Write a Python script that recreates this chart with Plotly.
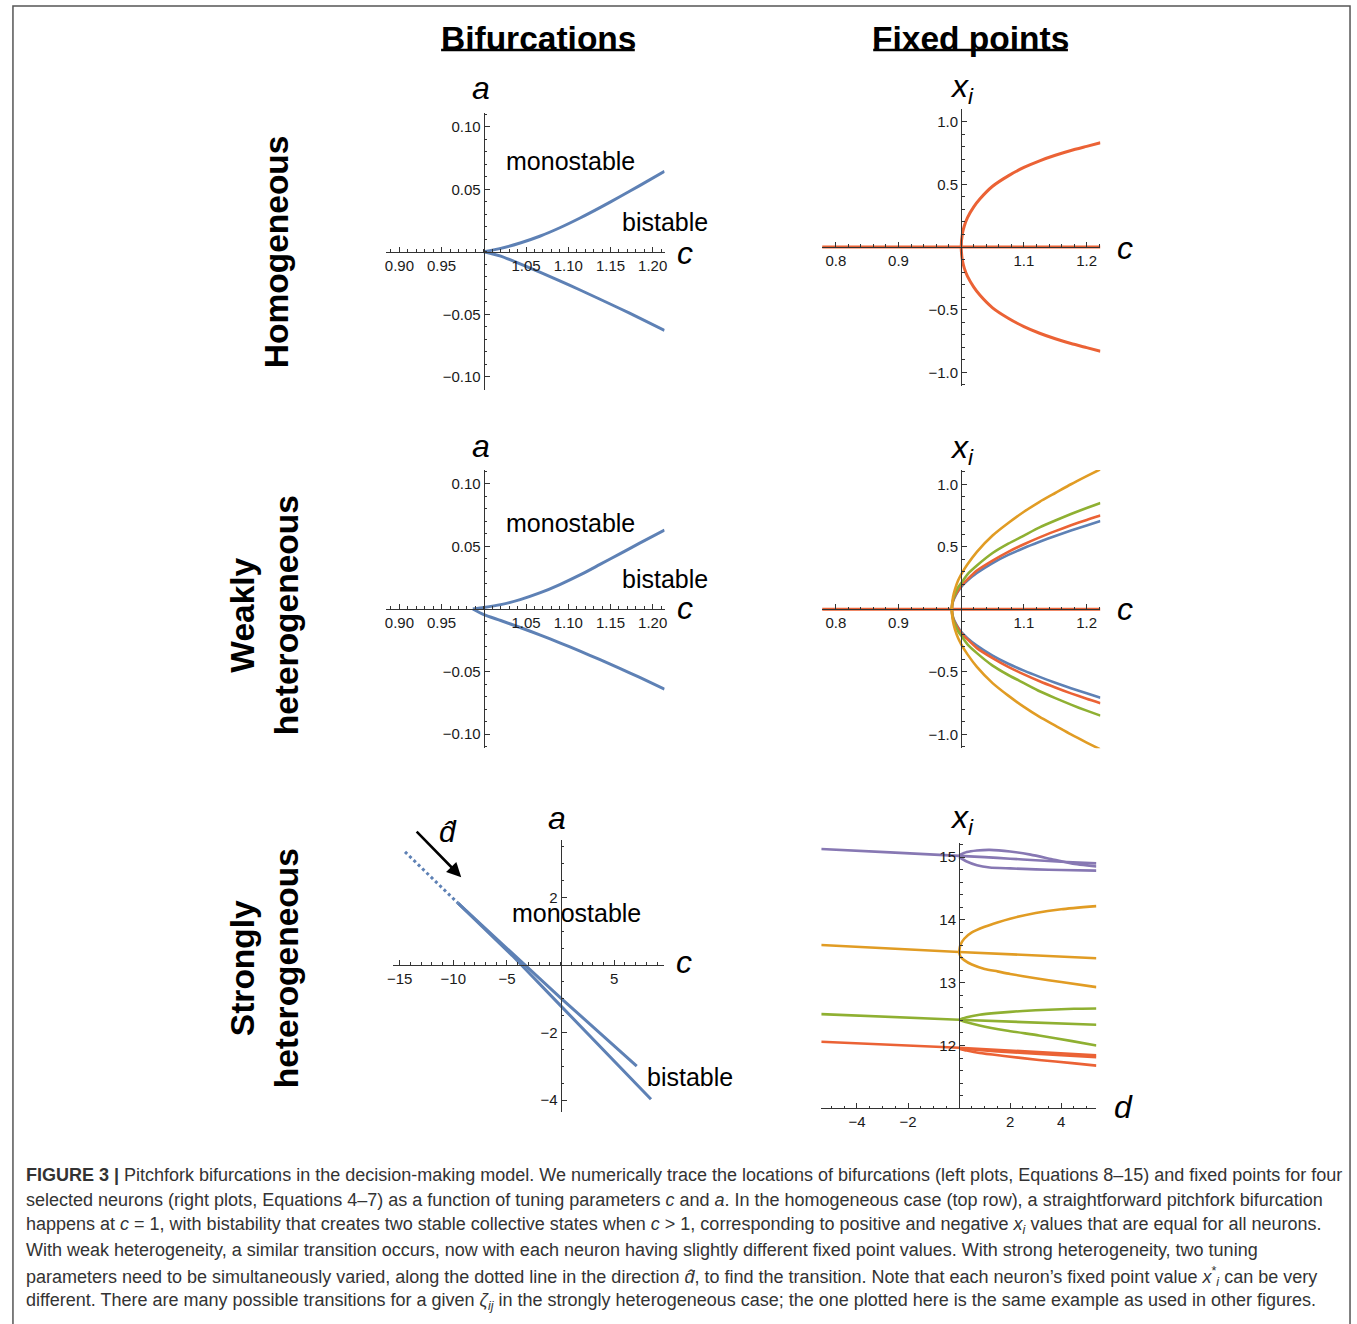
import plotly.graph_objects as go

W, H = 1357, 1324

# ------------------------------------------------------------------ data
# Row 1 left: homogeneous bifurcation lines (c, a)
hom_bif_c = [1.0, 1.02, 1.043, 1.067, 1.09, 1.114, 1.137, 1.161, 1.184, 1.214]
hom_bif_a_upper = [0.0, 0.0027, 0.0070, 0.0126, 0.0192, 0.0270, 0.0351, 0.0440, 0.0527, 0.0643]
hom_bif_a_lower = [0.0, -0.0035, -0.0097, -0.0165, -0.0233, -0.0306, -0.0378, -0.0454, -0.0529, -0.0630]

# Row 1 right: homogeneous fixed points (c, x_i)
hom_fp_c = [1.0, 1.002, 1.005, 1.01, 1.02, 1.03, 1.05, 1.075, 1.10, 1.125, 1.15, 1.175, 1.20, 1.222]
hom_fp_x_upper = [0.0, 0.11, 0.17, 0.235, 0.32, 0.385, 0.485, 0.568, 0.635, 0.688, 0.732, 0.770, 0.803, 0.832]
hom_fp_x_lower = [0.0, -0.11, -0.17, -0.235, -0.32, -0.385, -0.485, -0.568, -0.635, -0.688, -0.732, -0.770, -0.803, -0.832]
fp_zero_c = [0.778, 1.222]
fp_zero_x = [0.0, 0.0]

# Row 2 left: weakly heterogeneous bifurcation lines
weak_bif_c = [0.987, 1.0, 1.02, 1.043, 1.067, 1.09, 1.114, 1.137, 1.161, 1.184, 1.214]
weak_bif_a_upper = [0.0, 0.0012, 0.0035, 0.0075, 0.013, 0.0195, 0.0272, 0.0354, 0.0440, 0.0524, 0.0630]
weak_bif_a_lower = [0.0, -0.0045, -0.0092, -0.0148, -0.0208, -0.0270, -0.0336, -0.0403, -0.0474, -0.0544, -0.0640]

# Row 2 right: weakly heterogeneous fixed points for four neurons
weak_fp_c = [0.985, 0.987, 0.99, 0.995, 1.0, 1.01, 1.025, 1.05, 1.075, 1.10, 1.125, 1.15, 1.175, 1.20, 1.222]
weak_fp_orange = [0.0, 0.10, 0.16, 0.23, 0.28, 0.36, 0.46, 0.59, 0.69, 0.78, 0.86, 0.93, 1.00, 1.065, 1.12]
weak_fp_green = [0.0, 0.08, 0.12, 0.175, 0.21, 0.28, 0.35, 0.45, 0.525, 0.59, 0.655, 0.71, 0.762, 0.81, 0.85]
weak_fp_red = [0.0, 0.07, 0.11, 0.15, 0.19, 0.24, 0.31, 0.39, 0.46, 0.52, 0.575, 0.625, 0.672, 0.715, 0.75]
weak_fp_blue = [0.0, 0.065, 0.10, 0.145, 0.18, 0.23, 0.29, 0.37, 0.435, 0.49, 0.54, 0.587, 0.63, 0.67, 0.706]
weak_fp_orange_lower = [-0.0, -0.10, -0.16, -0.23, -0.28, -0.36, -0.46, -0.59, -0.69, -0.78, -0.86, -0.93, -1.00, -1.065, -1.12]
weak_fp_green_lower = [-0.0, -0.08, -0.12, -0.175, -0.21, -0.28, -0.35, -0.45, -0.525, -0.59, -0.655, -0.71, -0.762, -0.81, -0.85]
weak_fp_red_lower = [-0.0, -0.07, -0.11, -0.15, -0.19, -0.24, -0.31, -0.39, -0.46, -0.52, -0.575, -0.625, -0.672, -0.715, -0.75]
weak_fp_blue_lower = [-0.0, -0.065, -0.10, -0.145, -0.18, -0.23, -0.29, -0.37, -0.435, -0.49, -0.54, -0.587, -0.63, -0.67, -0.706]

# Row 3 left: strongly heterogeneous bifurcation lines (c, a)
strong_dotted_c = [-14.5, -9.56]
strong_dotted_a = [3.35, 1.83]
strong_line1_c = [-9.56, -4.5, 0.0, 7.1]
strong_line1_a = [1.83, 0.34, -0.97, -2.99]
strong_line2_c = [-9.56, -4.5, 0.0, 8.43]
strong_line2_a = [1.83, 0.28, -1.2, -3.97]

# Row 3 right: strongly heterogeneous fixed points (d, x_i)
purple_neg_d = [-5.4, -2.7, 0.0]
purple_neg_x = [15.13, 15.075, 15.02]
purple_mid_d = [0.0, 1.0, 2.0, 3.0, 4.0, 5.38]
purple_mid_x = [15.02, 15.0, 14.975, 14.95, 14.925, 14.90]
purple_up_d = [0.0, 0.3, 0.7, 1.2, 2.0, 2.8, 3.6, 4.4, 5.38]
purple_up_x = [15.03, 15.08, 15.105, 15.115, 15.09, 15.04, 14.97, 14.90, 14.85]
purple_low_d = [0.0, 0.3, 0.7, 1.2, 2.0, 3.0, 4.0, 5.38]
purple_low_x = [15.0, 14.93, 14.87, 14.835, 14.82, 14.805, 14.795, 14.785]

orange_neg_d = [-5.4, 0.0]
orange_neg_x = [13.60, 13.49]
orange_mid_d = [0.0, 5.38]
orange_mid_x = [13.49, 13.39]
orange_up_d = [0.0, 0.05, 0.2, 0.5, 1.0, 1.5, 2.0, 3.0, 4.0, 5.38]
orange_up_x = [13.49, 13.6, 13.7, 13.8, 13.89, 13.96, 14.02, 14.11, 14.17, 14.22]
orange_low_d = [0.0, 0.05, 0.2, 0.5, 1.0, 1.5, 2.0, 3.0, 4.0, 5.38]
orange_low_x = [13.49, 13.42, 13.36, 13.29, 13.22, 13.18, 13.14, 13.07, 13.01, 12.93]

green_neg_d = [-5.4, 0.0]
green_neg_x = [12.50, 12.41]
green_mid_d = [0.0, 5.38]
green_mid_x = [12.41, 12.33]
green_up_d = [0.0, 0.3, 0.8, 1.5, 2.5, 3.5, 4.5, 5.38]
green_up_x = [12.41, 12.45, 12.49, 12.52, 12.55, 12.57, 12.585, 12.59]
green_low_d = [0.0, 0.3, 0.8, 1.84, 3.13, 4.43, 5.38]
green_low_x = [12.41, 12.37, 12.32, 12.24, 12.16, 12.07, 12.0]

red_neg_d = [-5.4, 0.0]
red_neg_x = [12.06, 11.965]
red_a_d = [0.0, 5.38]
red_a_x = [11.965, 11.845]
red_b_d = [0.0, 1.0, 2.0, 3.0, 4.0, 5.38]
red_b_x = [11.955, 11.92, 11.895, 11.87, 11.845, 11.815]
red_low_d = [0.0, 0.3, 0.8, 1.84, 3.13, 4.43, 5.38]
red_low_x = [11.95, 11.92, 11.88, 11.83, 11.77, 11.72, 11.68]

# tick labels
bif_c_ticks = [0.90, 0.95, 1.05, 1.10, 1.15, 1.20]
bif_c_labels = ['0.90', '0.95', '1.05', '1.10', '1.15', '1.20']
bif_a_ticks = [-0.10, -0.05, 0.05, 0.10]
bif_a_labels = ['\u22120.10', '\u22120.05', '0.05', '0.10']
fp_c_ticks = [0.8, 0.9, 1.1, 1.2]
fp_c_labels = ['0.8', '0.9', '1.1', '1.2']
fp_x_ticks = [-1.0, -0.5, 0.5, 1.0]
fp_x_labels = ['\u22121.0', '\u22120.5', '0.5', '1.0']
strong_c_ticks = [-15, -10, -5, 5]
strong_c_labels = ['\u221215', '\u221210', '\u22125', '5']
strong_a_ticks = [-4, -2, 2]
strong_a_labels = ['\u22124', '\u22122', '2']
strong_d_ticks = [-4, -2, 2, 4]
strong_d_labels = ['\u22124', '\u22122', '2', '4']
strong_x_ticks = [12, 13, 14, 15]
strong_x_labels = ['12', '13', '14', '15']

# ------------------------------------------------------------------ style
BLUE = '#5E81B5'
ORANGE = '#E19C24'
GREEN = '#8FB032'
RED = '#EB6235'
PURPLE = '#8778B3'
AX = '#333333'
SANS = 'Liberation Sans, Arial, Helvetica, sans-serif'
TICKFONT = dict(family=SANS, size=15, color='#1a1a1a')


def px(x):
    return x / W


def py(y):
    return 1 - y / H


fig = go.Figure()


def add_line(xs, ys, n, color, width=3.0, dash='solid', spline=True):
    suffix = '' if n == 1 else str(n)
    fig.add_trace(go.Scatter(
        x=xs, y=ys, xaxis='x' + suffix, yaxis='y' + suffix, mode='lines',
        line=dict(color=color, width=width, dash=dash,
                  shape='spline' if spline else 'linear', smoothing=0.6),
        hoverinfo='skip', showlegend=False))


def joined(xs, up, low):
    """lower branch reversed, then upper branch, so the fork is one smooth curve"""
    return list(reversed(xs)) + xs[1:], list(reversed(low)) + up[1:]


# Row 1
add_line(hom_bif_c, hom_bif_a_upper, 1, BLUE)
add_line(hom_bif_c, hom_bif_a_lower, 1, BLUE)
add_line(fp_zero_c, fp_zero_x, 2, RED, spline=False)
cx, cy = joined(hom_fp_c, hom_fp_x_upper, hom_fp_x_lower)
add_line(cx, cy, 2, RED)

# Row 2
add_line(weak_bif_c, weak_bif_a_upper, 3, BLUE)
add_line(weak_bif_c, weak_bif_a_lower, 3, BLUE)
add_line(fp_zero_c, fp_zero_x, 4, RED, spline=False)
for up, low, col in [(weak_fp_blue, weak_fp_blue_lower, BLUE),
                     (weak_fp_red, weak_fp_red_lower, RED),
                     (weak_fp_green, weak_fp_green_lower, GREEN),
                     (weak_fp_orange, weak_fp_orange_lower, ORANGE)]:
    cx, cy = joined(weak_fp_c, up, low)
    add_line(cx, cy, 4, col, width=2.6)

# Row 3 left
add_line(strong_dotted_c, strong_dotted_a, 5, BLUE, width=3, dash='dot', spline=False)
add_line(strong_line1_c, strong_line1_a, 5, BLUE, width=3, spline=False)
add_line(strong_line2_c, strong_line2_a, 5, BLUE, width=3, spline=False)

# Row 3 right
for d, x, col in [
    (purple_neg_d, purple_neg_x, PURPLE), (purple_mid_d, purple_mid_x, PURPLE),
    (purple_up_d, purple_up_x, PURPLE), (purple_low_d, purple_low_x, PURPLE),
    (orange_neg_d, orange_neg_x, ORANGE), (orange_mid_d, orange_mid_x, ORANGE),
    (orange_up_d, orange_up_x, ORANGE), (orange_low_d, orange_low_x, ORANGE),
    (green_neg_d, green_neg_x, GREEN), (green_mid_d, green_mid_x, GREEN),
    (green_up_d, green_up_x, GREEN), (green_low_d, green_low_x, GREEN),
    (red_neg_d, red_neg_x, RED), (red_a_d, red_a_x, RED),
    (red_b_d, red_b_x, RED), (red_low_d, red_low_x, RED)]:
    add_line(d, x, 6, col, width=2.6)


# ------------------------------------------------------------------ axes
def xax(p0, p1, rng, cross_y, tv, tt, minor_dt, minor_t0):
    return dict(domain=[px(p0), px(p1)], range=rng, autorange=False, anchor='free',
                position=py(cross_y), side='bottom',
                showline=True, linecolor=AX, linewidth=1.2, mirror=False,
                ticks='inside', ticklen=5, tickwidth=1, tickcolor=AX,
                tickmode='array', tickvals=tv, ticktext=tt, tickfont=TICKFONT,
                minor=dict(ticks='inside', ticklen=2.5, tickwidth=1, tickcolor=AX,
                           dtick=minor_dt, tick0=minor_t0, showgrid=False),
                showgrid=False, zeroline=False, layer='above traces', fixedrange=True)


def yax(p0, p1, rng, cross_x, tv, tt, minor_dt, minor_t0):
    return dict(domain=[py(p1), py(p0)], range=rng, autorange=False, anchor='free',
                position=px(cross_x), side='left',
                showline=True, linecolor=AX, linewidth=1.2, mirror=False,
                ticks='inside', ticklen=5, tickwidth=1, tickcolor=AX,
                tickmode='array', tickvals=tv, ticktext=tt, tickfont=TICKFONT,
                minor=dict(ticks='inside', ticklen=2.5, tickwidth=1, tickcolor=AX,
                           dtick=minor_dt, tick0=minor_t0, showgrid=False),
                showgrid=False, zeroline=False, layer='above traces', fixedrange=True)


layout_axes = dict(
    xaxis=xax(383, 663, [0.8847, 1.2141], 251.7, bif_c_ticks, bif_c_labels, 0.01, 0.9),
    yaxis=yax(113, 390, [-0.1106, 0.111], 481, bif_a_ticks, bif_a_labels, 0.01, 0.0),
    xaxis2=xax(821.7, 1101.7, [0.7784, 1.2219], 247, fp_c_ticks, fp_c_labels, 0.02, 0.8),
    yaxis2=yax(109.3, 386, [-1.109, 1.099], 961.6, fp_x_ticks, fp_x_labels, 0.1, 0.0),
    xaxis3=xax(383, 663, [0.8847, 1.2141], 609, bif_c_ticks, bif_c_labels, 0.01, 0.9),
    yaxis3=yax(470, 748, [-0.111, 0.111], 481, bif_a_ticks, bif_a_labels, 0.01, 0.0),
    xaxis4=xax(821.7, 1101.7, [0.7784, 1.2219], 609.3, fp_c_ticks, fp_c_labels, 0.02, 0.8),
    yaxis4=yax(470, 748.3, [-1.111, 1.114], 961.6, fp_x_ticks, fp_x_labels, 0.1, 0.0),
    xaxis5=xax(390, 662.7, [-15.58, 9.67], 965, strong_c_ticks, strong_c_labels, 1, 0),
    yaxis5=yax(840, 1111.7, [-4.34, 3.70], 558.3, strong_a_ticks, strong_a_labels, 0.5, 0),
    xaxis6=xax(820.7, 1097.7, [-5.40, 5.38], 1108.3, strong_d_ticks, strong_d_labels, 0.5, 0),
    yaxis6=yax(843.3, 1108.3, [11.0, 15.22], 959.5, strong_x_ticks, strong_x_labels, 0.2, 11),
)

# ------------------------------------------------------------------ text
ann = []


def text(x, y, s, size, angle=0, color='black', family=SANS, xanchor='center'):
    ann.append(dict(x=px(x), y=py(y), xref='paper', yref='paper', text=s, showarrow=False,
                    xanchor=xanchor, yanchor='middle', textangle=angle,
                    font=dict(family=family, size=size, color=color)))


# column titles
text(536, 38, '<b>Bifurcations</b>', 33.5)
text(971, 38, '<b>Fixed points</b>', 33.5)

# row labels
text(273, 252, '<b>Homogeneous</b>', 33.5, angle=-90)
text(260, 615, '<b>Weakly<br>heterogeneous</b>', 33.5, angle=-90)
text(260, 968, '<b>Strongly<br>heterogeneous</b>', 33.5, angle=-90)

# axis letters
for (x, y, s) in [(478, 88, '<i>a</i>'), (684, 253, '<i>c</i>'),
                  (962, 88, '<i>x<sub>i</sub></i>'), (1126, 248, '<i>c</i>'),
                  (478, 446, '<i>a</i>'), (684, 608, '<i>c</i>'),
                  (962, 449, '<i>x<sub>i</sub></i>'), (1126, 609, '<i>c</i>'),
                  (555, 818, '<i>a</i>'), (683, 962, '<i>c</i>'),
                  (962, 820, '<i>x<sub>i</sub></i>'), (1125, 1107, '<i>d</i>')]:
    text(x, y, s, 32)

# region labels
text(568, 161, 'monostable', 25)
text(663, 222, 'bistable', 25)
text(568, 523, 'monostable', 25)
text(663, 579, 'bistable', 25)
text(574, 913, 'monostable', 25)
text(689, 1077, 'bistable', 25)

# d-hat label and arrow
text(445, 831, '<i>d\u0302</i>', 30)
ann.append(dict(x=-9.26, y=2.6, xref='x5', yref='y5', ax=-46, ay=-47,
                showarrow=True, arrowhead=2, arrowsize=1.1, arrowwidth=2.6,
                arrowcolor='black', text=''))

# caption
caption_lines = [
    '<b>FIGURE 3 |</b> Pitchfork bifurcations in the decision-making model. We numerically trace the locations of bifurcations (left plots, Equations 8\u201315) and fixed points for four',
    'selected neurons (right plots, Equations 4\u20137) as a function of tuning parameters <i>c</i> and <i>a</i>. In the homogeneous case (top row), a straightforward pitchfork bifurcation',
    'happens at <i>c</i> = 1, with bistability that creates two stable collective states when <i>c</i> &gt; 1, corresponding to positive and negative <i>x<sub>i</sub></i> values that are equal for all neurons.',
    'With weak heterogeneity, a similar transition occurs, now with each neuron having slightly different fixed point values. With strong heterogeneity, two tuning',
    'parameters need to be simultaneously varied, along the dotted line in the direction <i>d\u0302</i>, to find the transition. Note that each neuron\u2019s fixed point value <i>x</i><sup>*</sup><sub><i>i</i></sub> can be very',
    'different. There are many possible transitions for a given <i>\u03b6<sub>ij</sub></i> in the strongly heterogeneous case; the one plotted here is the same example as used in other figures.',
]
caption_y = [1175, 1200, 1225, 1250, 1276, 1301]
for s, y in zip(caption_lines, caption_y):
    text(18, y, s, 18, color='#333333',
         family='Liberation Sans Narrow, Liberation Sans, Arial, sans-serif', xanchor='left')

shapes = [
    dict(type='rect', xref='paper', yref='paper', x0=px(7), x1=px(1353), y0=py(1340), y1=py(6),
         line=dict(color='#555555', width=1.5), fillcolor='rgba(0,0,0,0)', layer='above'),
    dict(type='line', xref='paper', yref='paper', x0=px(438), x1=px(633), y0=py(50), y1=py(50),
         line=dict(color='black', width=2.5)),
    dict(type='line', xref='paper', yref='paper', x0=px(873), x1=px(1069), y0=py(50), y1=py(50),
         line=dict(color='black', width=2.5)),
]

fig.update_layout(
    width=W, height=H, margin=dict(l=0, r=0, t=0, b=0),
    paper_bgcolor='white', plot_bgcolor='rgba(0,0,0,0)',
    showlegend=False, annotations=ann, shapes=shapes, **layout_axes)

fig.write_html('out.html')
